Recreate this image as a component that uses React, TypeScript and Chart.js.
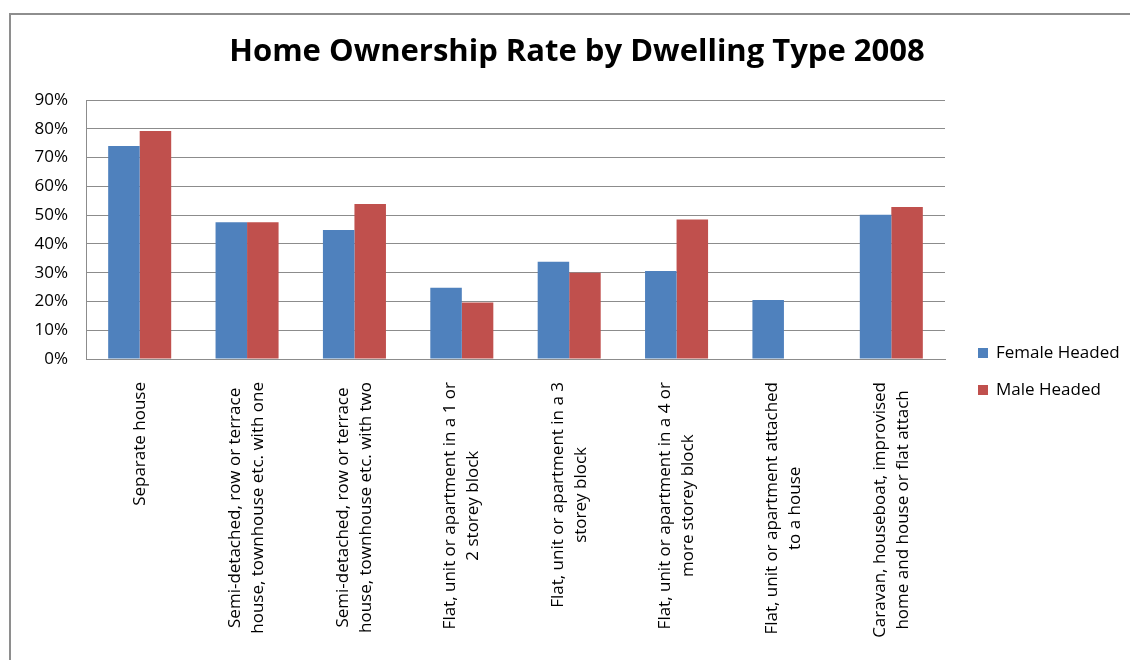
import React, { useEffect, useRef } from 'react';
import { Chart, registerables } from 'chart.js';

Chart.register(...registerables);

const titleText = 'Home Ownership Rate by Dwelling Type 2008';

const categories: string[][] = [
  ['Separate house'],
  ['Semi-detached, row or terrace', 'house, townhouse etc. with one'],
  ['Semi-detached, row or terrace', 'house, townhouse etc. with two'],
  ['Flat, unit or apartment in a 1 or', '2 storey block'],
  ['Flat, unit or apartment in a 3', 'storey block'],
  ['Flat, unit or apartment in a 4 or', 'more storey block'],
  ['Flat, unit or apartment attached', 'to a house'],
  ['Caravan, houseboat, improvised', 'home and house or flat attach'],
];

const femaleHeaded: (number | null)[] = [0.74, 0.475, 0.448, 0.248, 0.338, 0.306, 0.205, 0.501];
const maleHeaded: (number | null)[] = [0.792, 0.475, 0.539, 0.196, 0.3, 0.485, null, 0.528];

const seriesNames = ['Female Headed', 'Male Headed'];
const seriesColors = ['#4F81BD', '#C0504D'];

const yMin = 0;
const yMax = 0.9;
const yStep = 0.1;

const FONT = '"Open Sans", "DejaVu Sans", sans-serif';
const W = 1154;
const H = 660;

const framePlugin = {
  id: 'frame',
  beforeDraw(chart: any) {
    const ctx = chart.ctx;
    ctx.save();
    ctx.fillStyle = '#ffffff';
    ctx.fillRect(0, 0, chart.width, chart.height);
    ctx.strokeStyle = '#8e8e8e';
    ctx.lineWidth = 2;
    ctx.beginPath();
    ctx.moveTo(10, chart.height);
    ctx.lineTo(10, 14);
    ctx.lineTo(chart.width, 14);
    ctx.stroke();
    ctx.restore();
  },
};

const titlePlugin = {
  id: 'centeredTitle',
  afterDraw(chart: any) {
    const ctx = chart.ctx;
    ctx.save();
    ctx.font = `bold 31px ${FONT}`;
    ctx.fillStyle = '#000000';
    ctx.textAlign = 'center';
    ctx.textBaseline = 'alphabetic';
    ctx.fillText(titleText, chart.width / 2, 61);
    ctx.restore();
  },
};

const xLabelPlugin = {
  id: 'xLabels',
  afterDraw(chart: any) {
    const ctx = chart.ctx;
    const xs = chart.scales.x;
    const area = chart.chartArea;
    const y0 = area.bottom + 23;
    const lineH = 23;
    ctx.save();
    ctx.font = `17px ${FONT}`;
    ctx.fillStyle = '#000000';
    ctx.textAlign = 'center';
    ctx.textBaseline = 'middle';
    categories.forEach((lines, i) => {
      const x = xs.getPixelForValue(i);
      const maxW = Math.max(...lines.map((l) => ctx.measureText(l).width));
      ctx.save();
      ctx.translate(x, y0);
      ctx.rotate(-Math.PI / 2);
      lines.forEach((line, j) => {
        const off = (j - (lines.length - 1) / 2) * lineH;
        ctx.fillText(line, -maxW / 2, off);
      });
      ctx.restore();
    });
    ctx.restore();
  },
};

const legendPlugin = {
  id: 'customLegend',
  afterDraw(chart: any) {
    const ctx = chart.ctx;
    const area = chart.chartArea;
    const x = area.right + 33;
    const ys = [area.bottom - 6, area.bottom + 31];
    ctx.save();
    ctx.font = `17px ${FONT}`;
    ctx.textBaseline = 'middle';
    ctx.textAlign = 'left';
    chart.data.datasets.forEach((ds: any, i: number) => {
      ctx.fillStyle = ds.backgroundColor;
      ctx.fillRect(x, ys[i] - 5, 10, 10);
      ctx.fillStyle = '#000000';
      ctx.fillText(ds.label, x + 18, ys[i]);
    });
    ctx.restore();
  },
};

export default function App() {
  const ref = useRef<HTMLCanvasElement | null>(null);

  useEffect(() => {
    document.body.style.margin = '0';
    document.body.style.overflow = 'hidden';
    const canvas = ref.current;
    if (!canvas) return;
    const chart = new Chart(canvas, {
      type: 'bar',
      data: {
        labels: categories.map((c) => c.join(' ')),
        datasets: [
          {
            label: seriesNames[0],
            data: femaleHeaded,
            backgroundColor: seriesColors[0],
            categoryPercentage: 0.587,
            barPercentage: 1,
          },
          {
            label: seriesNames[1],
            data: maleHeaded,
            backgroundColor: seriesColors[1],
            categoryPercentage: 0.587,
            barPercentage: 1,
          },
        ],
      },
      options: {
        responsive: false,
        animation: false,
        devicePixelRatio: 1,
        layout: { padding: { left: 0, right: 209, top: 100, bottom: 0 } },
        plugins: {
          legend: { display: false },
          tooltip: { enabled: false },
          title: { display: false },
        },
        scales: {
          x: {
            grid: { display: false, drawTicks: false },
            border: { display: true, color: '#8c8c8c', width: 1 },
            ticks: { display: false },
            afterFit: (s: any) => {
              s.height = 301;
            },
          },
          y: {
            min: yMin,
            max: yMax,
            grid: { color: '#8c8c8c', lineWidth: 1, drawTicks: false },
            border: { display: true, color: '#8c8c8c', width: 1 },
            ticks: {
              stepSize: yStep,
              padding: 18,
              color: '#000000',
              font: { family: FONT, size: 17 },
              callback: (v: any) => `${Math.round(Number(v) * 100)}%`,
            },
            afterFit: (s: any) => {
              s.width = 86;
            },
          },
        },
      },
      plugins: [framePlugin, xLabelPlugin, legendPlugin, titlePlugin],
    } as any);
    return () => chart.destroy();
  }, []);

  return (
    <div style={{ position: 'relative', width: W, height: H, background: '#fff' }}>
      <canvas ref={ref} width={W} height={H} style={{ width: W, height: H, display: 'block' }} />
    </div>
  );
}
